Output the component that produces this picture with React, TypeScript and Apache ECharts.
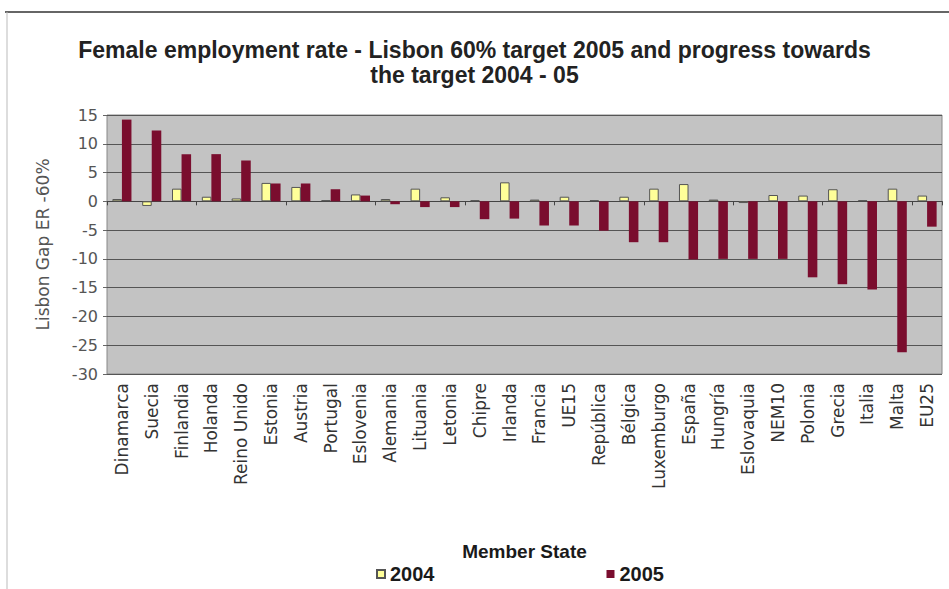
import React, { useEffect, useRef } from "react";
import * as echarts from "echarts";

const categories = [
  "Dinamarca", "Suecia", "Finlandia", "Holanda", "Reino Unido", "Estonia", "Austria",
  "Portugal", "Eslovenia", "Alemania", "Lituania", "Letonia", "Chipre", "Irlanda",
  "Francia", "UE15", "República", "Bélgica", "Luxemburgo", "España", "Hungría",
  "Eslovaquia", "NEM10", "Polonia", "Grecia", "Italia", "Malta", "EU25",
];

const values2004 = [
  0.4, -0.8, 2.2, 0.8, 0.5, 3.2, 2.5, 0.2, 1.2, 0.4, 2.2, 0.7, 0.2, 3.3,
  0.3, 0.8, 0.2, 0.8, 2.2, 3.0, 0.3, -0.3, 1.1, 1.0, 2.1, 0.2, 2.2, 1.0,
];

const values2005 = [
  14.2, 12.3, 8.2, 8.2, 7.1, 3.1, 3.1, 2.1, 1.0, -0.5, -1.0, -1.0, -3.1, -3.0,
  -4.2, -4.2, -5.1, -7.1, -7.1, -10.1, -10.0, -10.0, -10.0, -13.2, -14.4, -15.3, -26.2, -4.4,
];

const yTicks = { min: -30, max: 15, interval: 5 };

export default function App() {
  const ref = useRef<HTMLDivElement>(null);
  useEffect(() => {
    if (!ref.current) return;
    const chart = echarts.init(ref.current, null, { renderer: "svg" });
    chart.setOption({
      animation: false,
      backgroundColor: "#ffffff",
      title: {
        text: "Female employment rate - Lisbon 60% target 2005 and progress towards\nthe target 2004 - 05",
        left: "center",
        top: 32,
        textStyle: {
          fontFamily: "Liberation Sans",
          fontWeight: "bold",
          fontSize: 23,
          color: "#222",
          lineHeight: 25,
        },
      },
      legend: {
        top: 564,
        left: 376,
        itemGap: 172,
        itemWidth: 8,
        itemHeight: 8,
        icon: "rect",
        padding: 0,
        textStyle: { fontFamily: "Liberation Sans", fontWeight: "bold", fontSize: 20, color: "#1a1a1a", lineHeight: 20 },
        data: ["2004", "2005"],
      },
      grid: {
        left: 107,
        right: 7,
        top: 115,
        bottom: 215,
        show: true,
        backgroundColor: "#c3c3c3",
        borderColor: "#888",
        borderWidth: 1,
      },
      xAxis: [
        {
          type: "category",
          data: categories,
          position: "bottom",
          axisLine: { onZero: false, show: false },
          axisTick: { show: false },
          axisLabel: {
            rotate: 90,
            interval: 0,
            margin: 9,
            fontFamily: "DejaVu Sans",
            fontSize: 17,
            color: "#333",
          },
          name: "Member State",
          nameLocation: "middle",
          nameGap: 168,
          nameTextStyle: { fontFamily: "Liberation Sans", fontWeight: "bold", fontSize: 19, color: "#1a1a1a" },
        },
        {
          type: "category",
          data: categories,
          position: "bottom",
          axisLine: { onZero: true, show: true, lineStyle: { color: "#444", width: 1 } },
          axisTick: { show: true, length: 4, inside: false, lineStyle: { color: "#444" } },
          axisLabel: { show: false },
        },
      ],
      yAxis: {
        type: "value",
        min: yTicks.min,
        max: yTicks.max,
        interval: yTicks.interval,
        axisLine: { show: false },
        axisTick: { show: true, length: 4, lineStyle: { color: "#666" } },
        axisLabel: { fontFamily: "DejaVu Sans", fontSize: 16, color: "#555", margin: 9 },
        splitLine: { show: true, lineStyle: { color: "#555", width: 1 } },
        name: "Lisbon Gap ER -60%",
        nameLocation: "middle",
        nameGap: 56,
        nameTextStyle: { fontFamily: "DejaVu Sans", fontSize: 17, color: "#555" },
      },
      series: [
        {
          name: "2004",
          type: "bar",
          data: values2004,
          barGap: "0%",
          barCategoryGap: "36%",
          itemStyle: { color: "#ffff99", borderColor: "#555", borderWidth: 1 },
        },
        {
          name: "2005",
          type: "bar",
          data: values2005,
          itemStyle: { color: "#7a0d2e" },
        },
      ],
      graphic: [
        { type: "line", shape: { x1: 5, y1: 12, x2: 949, y2: 12 }, style: { stroke: "#666", lineWidth: 2 } },
        { type: "line", shape: { x1: 7, y1: 12, x2: 7, y2: 589 }, style: { stroke: "#bbb", lineWidth: 1 } },
      ],
    });
    return () => chart.dispose();
  }, []);
  return (
    <div
      ref={ref}
      style={{ position: "fixed", left: 0, top: 0, width: 949, height: 589 }}
    />
  );
}
